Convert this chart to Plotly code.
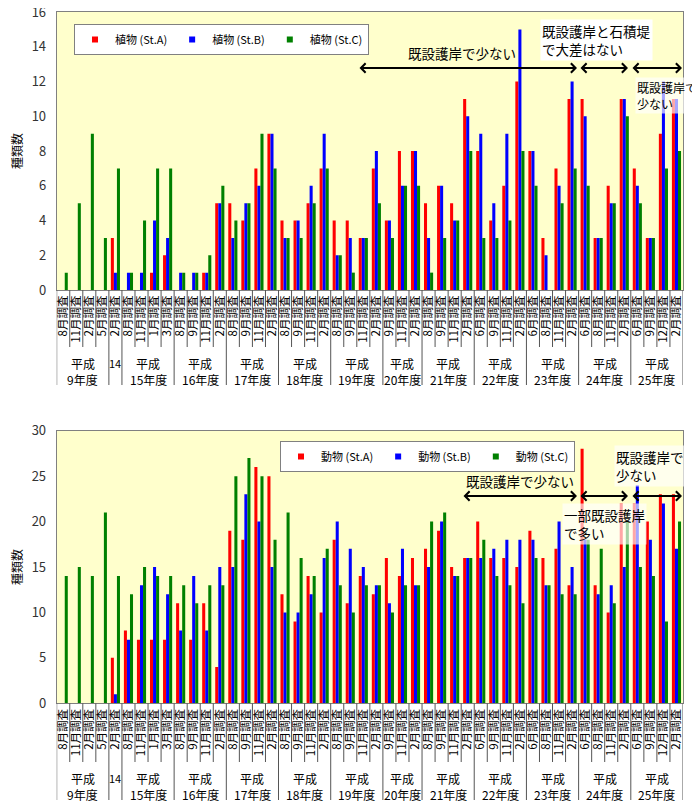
import plotly.graph_objects as go

# the page body adds an 8px margin, so the figure is sized to fill the rest of the window
PAGE_OFF = 8
W, H = 700 - PAGE_OFF, 807 - PAGE_OFF

# ---- categories ----
months = ["8月調査", "11月調査", "2月調査", "5月調査",
          "2月調査",
          "8月調査", "11月調査", "1月調査", "3月調査",
          "8月調査", "9月調査", "11月調査", "2月調査",
          "8月調査", "9月調査", "11月調査", "2月調査",
          "8月調査", "9月調査", "11月調査", "2月調査",
          "8月調査", "9月調査", "11月調査", "2月調査",
          "9月調査", "11月調査", "2月調査",
          "8月調査", "9月調査", "11月調査", "2月調査",
          "6月調査", "9月調査", "11月調査", "2月調査",
          "6月調査", "8月調査", "11月調査", "2月調査",
          "6月調査", "8月調査", "11月調査", "2月調査",
          "6月調査", "9月調査", "12月調査", "2月調査"]
era_label = "平成"
year_labels = ["9年度", "14", "15年度", "16年度", "17年度", "18年度", "19年度",
               "20年度", "21年度", "22年度", "23年度", "24年度", "25年度"]
group_sizes = [4, 1, 4, 4, 4, 4, 4, 3, 4, 4, 4, 4, 4]

# ---- plants ----
plant_a = [None, None, None, None, 3, 0, 0, 1, 2, 0, 0, 1, 5, 5, 4, 7, 9, 4, 4, 5, 7, 4, 4, 3, 7,
           4, 8, 8, 5, 6, 5, 11, 8, 4, 6, 12, 8, 3, 7, 11, 11, 3, 6, 11, 7, 3, 9, 11]
plant_b = [None, None, None, None, 1, 1, 1, 4, 3, 1, 1, 1, 5, 3, 5, 6, 9, 3, 4, 6, 9, 2, 3, 3, 8,
           4, 6, 8, 3, 6, 4, 10, 9, 5, 9, 15, 8, 2, 6, 12, 10, 3, 5, 11, 6, 3, 12, 11]
plant_c = [1, 5, 9, 3, 7, 1, 4, 7, 7, 1, 1, 2, 6, 4, 5, 9, 7, 3, 3, 5, 7, 2, 1, 3, 5,
           3, 6, 6, 1, 3, 4, 8, 3, 3, 4, 8, 6, 0, 5, 7, 6, 3, 5, 10, 5, 3, 7, 8]

# ---- animals ----
animal_a = [None, None, None, None, 5, 8, 7, 7, 7, 11, 7, 11, 4, 19, 18, 26, 25, 12, 9, 14, 10, 18, 11, 14, 12,
            16, 14, 16, 17, 19, 15, 16, 20, 16, 16, 15, 19, 16, 17, 13, 28, 13, 10, 22, 22, 20, 23, 23]
animal_b = [None, None, None, None, 1, 7, 13, 15, 12, 8, 14, 8, 15, 15, 23, 20, 15, 10, 10, 12, 16, 20, 17, 15, 13,
            11, 17, 13, 15, 20, 14, 16, 16, 17, 18, 18, 18, 13, 20, 15, 18, 12, 13, 15, 24, 18, 22, 17]
animal_c = [14, 15, 14, 21, 14, 12, 15, 14, 14, 13, 11, 13, 13, 25, 27, 25, 18, 21, 16, 14, 17, 13, 10, 13, 13,
            10, 13, 13, 20, 21, 14, 16, 18, 14, 13, 11, 16, 13, 12, 12, 18, 17, 11, 20, 15, 14, 9, 20]

plant_names = ["植物 (St.A)", "植物 (St.B)", "植物 (St.C)"]
animal_names = ["動物 (St.A)", "動物 (St.B)", "動物 (St.C)"]
colors = ["#FF0000", "#0000FF", "#008000"]

FONT = "Noto Sans CJK JP"
X0, X1 = 56.7, 683.0          # window pixels of plot left / right edges
TOP = (12.0, 290.0)           # window pixels of top plot top / bottom
BOT = (430.7, 703.3)          # window pixels of bottom plot top / bottom
N = len(months)
STEP = (X1 - X0) / N


def fx(px):
    return (px - PAGE_OFF) / W


def fy(py):
    return 1 - (py - PAGE_OFF) / H


def idx(px):
    return (px - X0) / STEP - 0.5


xs = list(range(N))
fig = go.Figure()
for names, series, xa, ya, lg in [(plant_names, [plant_a, plant_b, plant_c], "x", "y", "legend"),
                                  (animal_names, [animal_a, animal_b, animal_c], "x2", "y2", "legend2")]:
    for name, vals, col in zip(names, series, colors):
        fig.add_trace(go.Bar(x=xs, y=vals, name=name, marker_color=col, marker_line_width=0,
                             xaxis=xa, yaxis=ya, showlegend=False))
    # legend entries with small square symbols
    for name, col in zip(names, colors):
        fig.add_trace(go.Scatter(x=[None], y=[None], mode="markers", name=name,
                                 marker=dict(symbol="square", size=6, color=col),
                                 xaxis=xa, yaxis=ya, legend=lg, showlegend=True))

xcommon = dict(range=[-0.5, N - 0.5], tickvals=xs, ticktext=months, tickangle=-90,
               tickfont=dict(size=11.5, color="#000", family=FONT), showline=True, mirror=True,
               linecolor="#808080", linewidth=1, showgrid=False, zeroline=False, ticks="",
               domain=[fx(X0), fx(X1)], fixedrange=True, automargin=False,
               ticklabeloverflow="allow")
ycommon = dict(showline=True, mirror=True, linecolor="#808080", linewidth=1, showgrid=False,
               zeroline=False, ticks="", ticklabelstandoff=7, automargin=False, fixedrange=True,
               ticklabeloverflow="allow",
               tickfont=dict(size=13, color="#333", family=FONT),
               title=dict(text="種類数", font=dict(size=12, color="#000", family=FONT), standoff=10))

legend_common = dict(orientation="h", xanchor="left", yanchor="top", bgcolor="white",
                     bordercolor="#808080", borderwidth=1, font=dict(size=11, family=FONT, color="#000"),
                     itemwidth=30, traceorder="normal", itemsizing="trace")

fig.update_layout(
    width=W, height=H, margin=dict(l=0, r=0, t=0, b=0, autoexpand=False),
    paper_bgcolor="white", plot_bgcolor="#FFFFCC",
    barmode="group", bargap=0.3, bargroupgap=0,
    font=dict(family=FONT),
    xaxis=dict(xcommon, anchor="y"),
    yaxis=dict(ycommon, anchor="x", range=[0, 16], dtick=2, domain=[fy(TOP[1]), fy(TOP[0])]),
    xaxis2=dict(xcommon, anchor="y2"),
    yaxis2=dict(ycommon, anchor="x2", range=[0, 30], dtick=5, domain=[fy(BOT[1]), fy(BOT[0])]),
    legend=dict(legend_common, x=fx(74), y=fy(24)),
    legend2=dict(legend_common, x=fx(280), y=fy(441)),
    showlegend=True,
)

# ---- table lines and year group labels under each chart ----
boundaries = [0]
for s in group_sizes:
    boundaries.append(boundaries[-1] + s)

shapes = []
annotations = []
for xref, base, short_end, long_end, era_y, yr_y in [("x", TOP[1], 347, 385, 363, 379),
                                                      ("x2", BOT[1], 762, 800, 778, 794)]:
    for i in range(N + 1):
        end = long_end if i in boundaries else short_end
        shapes.append(dict(type="line", xref=xref, yref="paper", x0=i - 0.5, x1=i - 0.5,
                           y0=fy(base), y1=fy(end), line=dict(color="#555", width=1)))
    for g, lab in enumerate(year_labels):
        c = (boundaries[g] + boundaries[g + 1] - 1) / 2
        if group_sizes[g] > 1:
            annotations.append(dict(xref=xref, yref="paper", x=c, y=fy(era_y), text=era_label,
                                    showarrow=False, yanchor="middle",
                                    font=dict(size=12, color="#000", family=FONT)))
            annotations.append(dict(xref=xref, yref="paper", x=c, y=fy(yr_y), text=lab,
                                    showarrow=False, yanchor="middle",
                                    font=dict(size=12, color="#000", family=FONT)))
        else:
            annotations.append(dict(xref=xref, yref="paper", x=c, y=fy(era_y), text=lab,
                                    showarrow=False, yanchor="middle",
                                    font=dict(size=11, color="#000", family=FONT)))


def note(text, px, py, xanchor="center", size=13.5, bg="rgba(0,0,0,0)"):
    annotations.append(dict(xref="paper", yref="paper", x=fx(px), y=fy(py), text=text,
                            showarrow=False, xanchor=xanchor, yanchor="middle", align="left",
                            bgcolor=bg, borderpad=1,
                            font=dict(size=size, color="#000", family=FONT)))


def darrow(xref, yref, px0, px1, yval):
    annotations.append(dict(xref=xref, yref=yref, axref=xref, ayref=yref,
                            x=idx(px1), y=yval, ax=idx(px0), ay=yval, text="",
                            showarrow=True, arrowside="end+start", arrowhead=4, startarrowhead=4,
                            arrowsize=0.9, startarrowsize=0.9, arrowwidth=2, arrowcolor="#000",
                            standoff=0, startstandoff=0))


# top chart notes
semi = "rgba(255,255,255,0.65)"
note("既設護岸と石積堤<br>で大差はない", 540, 40, xanchor="left", bg="white")
note("既設護岸で<br>少ない", 635, 95, xanchor="left", size=12, bg=semi)
note("既設護岸で少ない", 462, 53)
ty = (TOP[1] - 68) / ((TOP[1] - TOP[0]) / 16)
darrow("x", "y", 358, 577, ty)
darrow("x", "y", 579, 628, ty)
darrow("x", "y", 631, 682, ty)

# bottom chart notes
note("一部既設護岸<br>で多い", 562, 524, xanchor="left", size=13.5, bg=semi)
note("既設護岸で<br>少ない", 614, 466, xanchor="left", size=13.5, bg=semi)
note("既設護岸で少ない", 520, 481)
by = (BOT[1] - 496) / ((BOT[1] - BOT[0]) / 30)
darrow("x2", "y2", 462, 577, by)
darrow("x2", "y2", 579, 628, by)
darrow("x2", "y2", 631, 682, by)

fig.update_layout(shapes=shapes, annotations=annotations)
fig.write_html("out.html")
